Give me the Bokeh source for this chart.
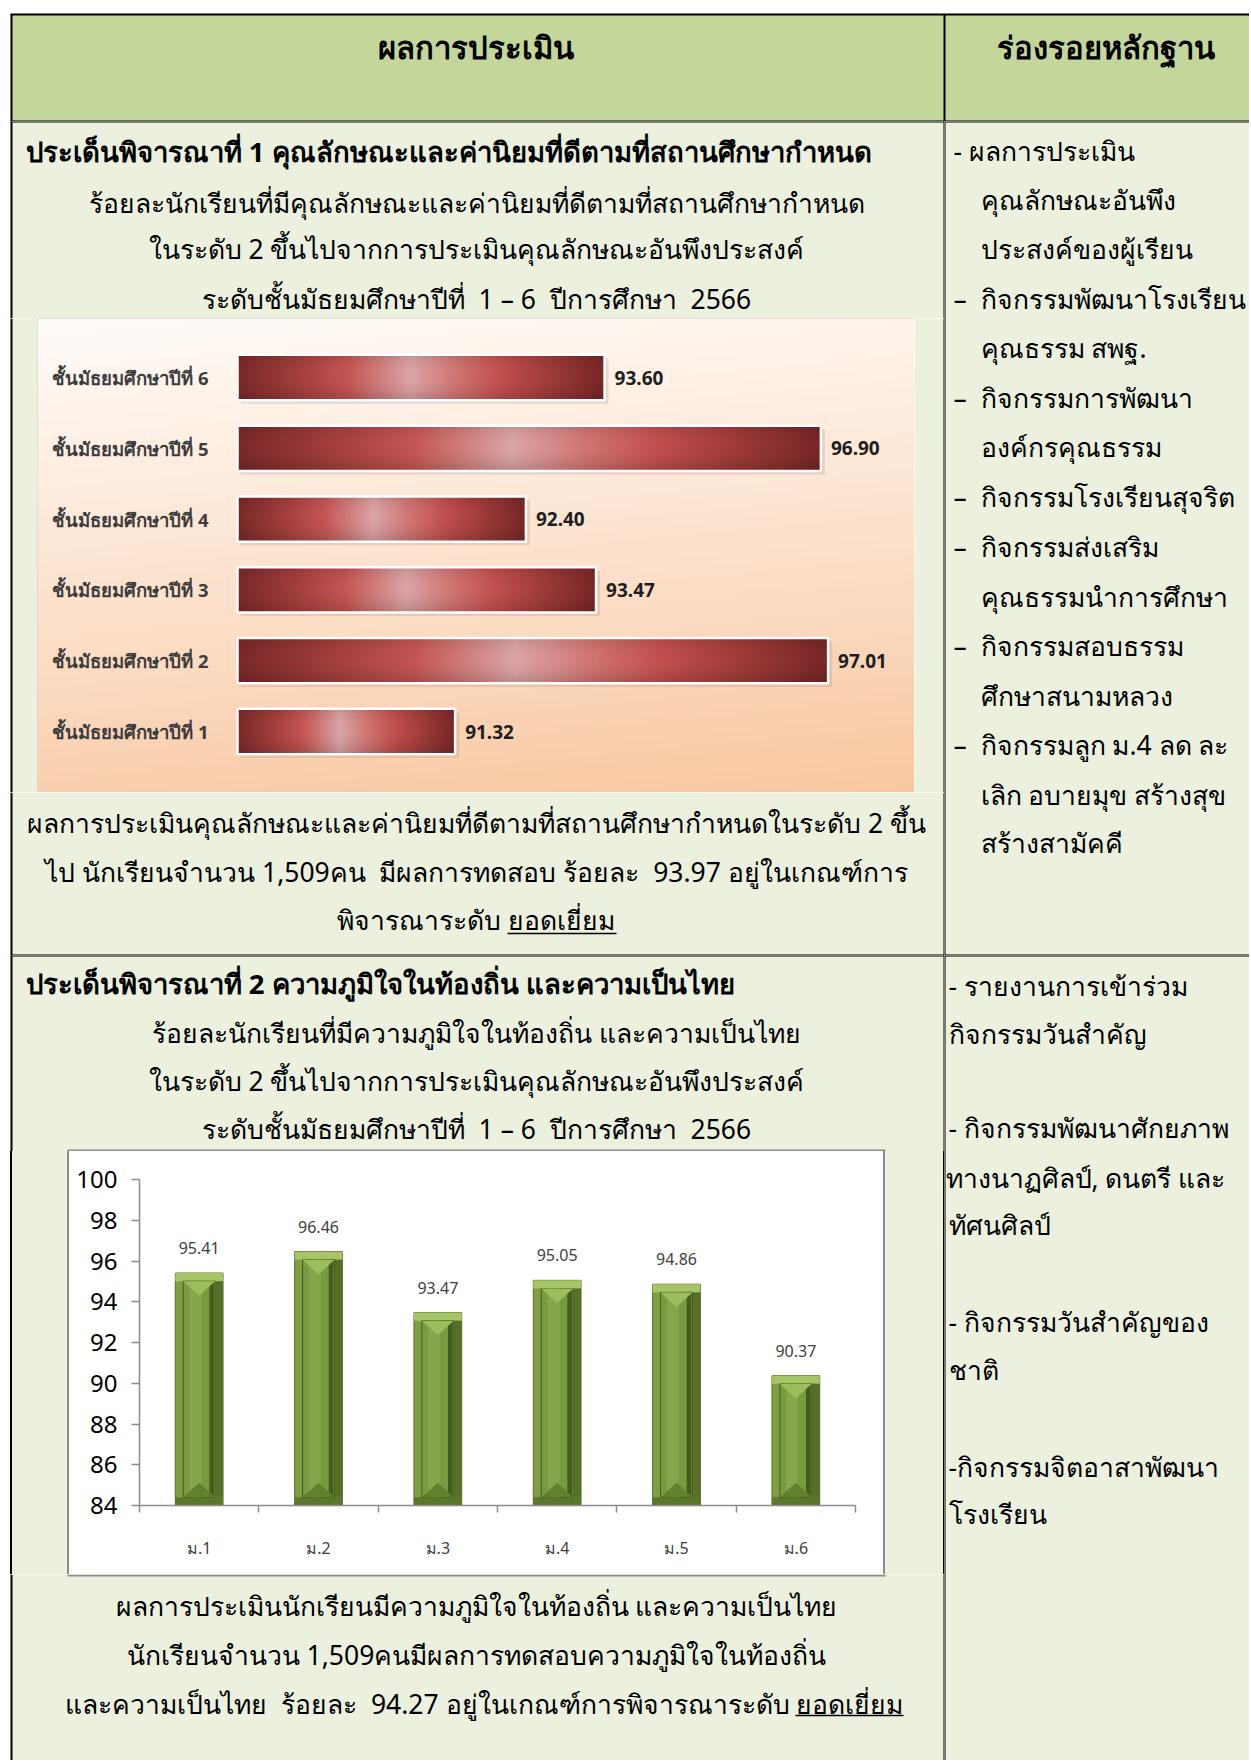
import numpy as np
from bokeh.plotting import figure
from bokeh.layouts import column, row
from bokeh.models import Range1d, FixedTicker, Div
from bokeh.core.properties import value
from bokeh.embed import file_html
from bokeh.resources import INLINE

FONT = "Noto Sans"
CELL = "#ebf1de"
HEAD = "#c4d79b"
BODY = 26.5
BOLD = 27.5
SP = "\u00a0 "   # a preserved double space

# ---------------- data ----------------
c1_categories = ["ชั้นมัธยมศึกษาปีที่ 1", "ชั้นมัธยมศึกษาปีที่ 2", "ชั้นมัธยมศึกษาปีที่ 3",
                 "ชั้นมัธยมศึกษาปีที่ 4", "ชั้นมัธยมศึกษาปีที่ 5", "ชั้นมัธยมศึกษาปีที่ 6"]
c1_values = [91.32, 97.01, 93.47, 92.40, 96.90, 93.60]
c1_axis_min = 88

c2_categories = ["ม.1", "ม.2", "ม.3", "ม.4", "ม.5", "ม.6"]
c2_values = [95.41, 96.46, 93.47, 95.05, 94.86, 90.37]
c2_y_ticks = [84, 86, 88, 90, 92, 94, 96, 98, 100]

header_left = "ผลการประเมิน"
header_right = "ร่องรอยหลักฐาน"

title1 = "ประเด็นพิจารณาที่ 1 คุณลักษณะและค่านิยมที่ดีตามที่สถานศึกษากำหนด"
s1_lines = ["ร้อยละนักเรียนที่มีคุณลักษณะและค่านิยมที่ดีตามที่สถานศึกษากำหนด",
            "ในระดับ 2 ขึ้นไปจากการประเมินคุณลักษณะอันพึงประสงค์",
            f"ระดับชั้นมัธยมศึกษาปีที่{SP}1 – 6{SP}ปีการศึกษา{SP}2566"]
s1_summary = ["ผลการประเมินคุณลักษณะและค่านิยมที่ดีตามที่สถานศึกษากำหนดในระดับ 2 ขึ้น",
              f"ไป นักเรียนจำนวน 1,509คน{SP}มีผลการทดสอบ ร้อยละ{SP}93.97 อยู่ในเกณฑ์การ"]
s1_last = ["พิจารณาระดับ", "ยอดเยี่ยม"]

title2 = "ประเด็นพิจารณาที่ 2 ความภูมิใจในท้องถิ่น และความเป็นไทย"
s2_lines = ["ร้อยละนักเรียนที่มีความภูมิใจในท้องถิ่น และความเป็นไทย",
            "ในระดับ 2 ขึ้นไปจากการประเมินคุณลักษณะอันพึงประสงค์",
            f"ระดับชั้นมัธยมศึกษาปีที่{SP}1 – 6{SP}ปีการศึกษา{SP}2566"]
s2_summary = ["ผลการประเมินนักเรียนมีความภูมิใจในท้องถิ่น และความเป็นไทย",
              "นักเรียนจำนวน 1,509คนมีผลการทดสอบความภูมิใจในท้องถิ่น"]
s2_last = [f"และความเป็นไทย{SP}ร้อยละ{SP}94.27 อยู่ในเกณฑ์การพิจารณาระดับ", "ยอดเยี่ยม"]

r1_lines = [("", "- ผลการประเมิน"), ("", "คุณลักษณะอันพึง"), ("", "ประสงค์ของผู้เรียน"),
            ("–", "กิจกรรมพัฒนาโรงเรียน"), ("", "คุณธรรม สพฐ."),
            ("–", "กิจกรรมการพัฒนา"), ("", "องค์กรคุณธรรม"),
            ("–", "กิจกรรมโรงเรียนสุจริต"),
            ("–", "กิจกรรมส่งเสริม"), ("", "คุณธรรมนำการศึกษา"),
            ("–", "กิจกรรมสอบธรรม"), ("", "ศึกษาสนามหลวง"),
            ("–", "กิจกรรมลูก ม.4 ลด ละ"), ("", "เลิก อบายมุข สร้างสุข"), ("", "สร้างสามัคคี")]
r2_lines = ["- รายงานการเข้าร่วม", "กิจกรรมวันสำคัญ", "- กิจกรรมพัฒนาศักยภาพ",
            "ทางนาฏศิลป์, ดนตรี และ", "ทัศนศิลป์", "- กิจกรรมวันสำคัญของ", "ชาติ",
            "-กิจกรรมจิตอาสาพัฒนา", "โรงเรียน"]


# ---------------- helpers ----------------
def cell(w, h, bg=CELL):
    p = figure(width=w, height=h, x_range=Range1d(0, w), y_range=Range1d(h, 0),
               x_axis_location=None, y_axis_location=None, min_border=0,
               toolbar_location=None, output_backend="svg",
               background_fill_color=bg, border_fill_color=bg, outline_line_color=None)
    p.grid.visible = False
    return p


def txt(p, x, y, s, size=BODY, bold=False, align="left", color="black"):
    p.text(x=[x], y=[y], text=[s], text_font=value(FONT), text_font_size=f"{size}px",
           text_font_style="bold" if bold else "normal", text_align=align,
           text_baseline="middle", text_color=color)


def seg(p, x0, y0, x1, y1, color="black", w=2.0):
    p.segment(x0=[x0], y0=[y0], x1=[x1], y1=[y1], line_color=color, line_width=w)


def left_edges(p, w, h, right=True):
    p.quad(left=[0], right=[10], top=[0], bottom=[h], color="white")
    seg(p, 11, 0, 11, h)
    if right:
        seg(p, w, 0, w, h)


def pad_div(w, h, stops):
    parts = []
    for c, a, b in stops:
        parts.append(f"{c} {a}px, {c} {b}px")
    grad = "linear-gradient(to right, " + ", ".join(parts) + ")"
    return Div(text="", width=w, height=h, margin=(0, 0, 0, 0),
               styles={"background": grad, "padding": "0", "margin": "0"})


def hexrgb(c):
    c = c.lstrip("#")
    return np.array([int(c[i:i + 2], 16) for i in (0, 2, 4)], float)


def interp(stops, t):
    for (a, ca), (b, cb) in zip(stops[:-1], stops[1:]):
        if a <= t <= b:
            f = (t - a) / (b - a) if b > a else 0
            return hexrgb(ca) * (1 - f) + hexrgb(cb) * f
    return hexrgb(stops[-1][1])


def to_rgba_image(rgb):
    ny, nx, _ = rgb.shape
    img = np.empty((ny, nx), dtype=np.uint32)
    view = img.view(dtype=np.uint8).reshape((ny, nx, 4))
    view[:, :, :3] = np.clip(np.round(rgb), 0, 255).astype(np.uint8)
    view[:, :, 3] = 255
    return img


W_ALL = 1249
LW = 944            # left column width (divider at x=944)
RW = W_ALL - LW     # right column width

# ---------------- header ----------------
f_top = cell(W_ALL, 121, bg="white")
f_top.quad(left=[11], right=[W_ALL], top=[14], bottom=[121], color=HEAD)
seg(f_top, 10, 14, W_ALL, 14)
seg(f_top, 10, 121, W_ALL, 121)
seg(f_top, 11, 14, 11, 121)
seg(f_top, LW, 14, LW, 121)
txt(f_top, 475, 46, header_left, size=31, bold=True, align="center")
txt(f_top, 1105, 46, header_right, size=31, bold=True, align="center")

# ---------------- section 1 ----------------
f_t1a = cell(LW, 197)
left_edges(f_t1a, LW, 197)
seg(f_t1a, 10, 0, LW, 0)
txt(f_t1a, 25, 30, title1, size=BOLD, bold=True)
for yy, s in zip([81, 127, 177], s1_lines):
    txt(f_t1a, 476, yy, s, align="center")

f_p1l = cell(37, 474)
left_edges(f_p1l, 37, 474, right=False)
f_p1r = cell(30, 474)
seg(f_p1r, 30, 0, 30, 474)

# chart 1 (horizontal bars)
C1_W, C1_H = 877, 474
px_unit = 65.55
cat_px = 70.8
x0 = c1_axis_min - 200 / px_unit
x1 = x0 + C1_W / px_unit
y0 = 0.5 - (C1_H - 413) / cat_px
y1 = 0.5 + 413 / cat_px
p1 = figure(width=C1_W, height=C1_H, x_range=Range1d(x0, x1), y_range=Range1d(y0, y1),
            x_axis_location=None, y_axis_location=None, min_border=0,
            toolbar_location=None, output_backend="svg",
            background_fill_color="#fce7d6", border_fill_color="#fce7d6",
            outline_line_color="#dcd6d0", outline_line_width=2)
p1.grid.visible = False

# background gradient image (top near white -> bottom peach)
bg_stops = [(0, "#f8c7a0"), (0.45, "#fce0ca"), (1, "#fffbf8")]
ny, nx = 120, 60
bg = np.zeros((ny, nx, 3))
for j in range(ny):
    for i in range(nx):
        t = 0.85 * (j / (ny - 1)) + 0.15 * (1 - i / (nx - 1))
        bg[j, i] = interp(bg_stops, min(1, t))
p1.image_rgba(image=[to_rgba_image(bg)], x=x0, y=y0, dw=x1 - x0, dh=y1 - y0)

ys = np.array([i + 0.5 for i in range(len(c1_values))])
vals = np.array(c1_values)
BAR_H = 0.64
p1.hbar(y=ys - 0.05, left=c1_axis_min + 0.05, right=vals + 0.06, height=BAR_H,
        fill_color="#a08070", fill_alpha=0.22, line_color=None)
bar_stops = [(0, "#7a2829"), (0.16, "#a23e3d"), (0.3, "#c45654"), (0.47, "#dca5a5"),
             (0.6, "#d07472"), (0.72, "#c14f4d"), (0.88, "#973736"), (1, "#772627")]
bny, bnx = 40, 256
bar_rgb = np.zeros((bny, bnx, 3))
for i in range(bnx):
    col = interp(bar_stops, i / (bnx - 1))
    for j in range(bny):
        t = j / (bny - 1)
        shade = 1 - 0.13 * abs(2 * t - 1.1) ** 2
        bar_rgb[j, i] = col * shade
bar_img = to_rgba_image(bar_rgb)
p1.image_rgba(image=[bar_img] * len(vals), x=[c1_axis_min] * len(vals), y=ys - BAR_H / 2,
              dw=vals - c1_axis_min, dh=[BAR_H] * len(vals))
p1.hbar(y=ys, left=c1_axis_min, right=vals, height=BAR_H, fill_color=None,
        line_color="white", line_width=2.5)
p1.text(x=vals, y=ys, text=[f"{v:.2f}" for v in c1_values], x_offset=10,
        text_align="left", text_baseline="middle", text_font=value(FONT),
        text_font_size="19px", text_font_style="bold", text_color="#1e1e1e")
p1.text(x=[c1_axis_min] * len(ys), y=ys, text=c1_categories, x_offset=-29,
        text_align="right", text_baseline="middle", text_font=value(FONT),
        text_font_size="18.5px", text_font_style="bold", text_color="#3c3c3c")

f_t1b = cell(LW, 163)
left_edges(f_t1b, LW, 163)
seg(f_t1b, 10, 163, LW, 163)
for yy, s in zip([30, 79], s1_summary):
    txt(f_t1b, 476, yy, s, align="center")
txt(f_t1b, 500, 127, s1_last[0], align="right")
txt(f_t1b, 507, 127, s1_last[1], align="left")
seg(f_t1b, 507, 141, 616, 141, w=1.5)

f_r1 = cell(RW, 834)
seg(f_r1, 0, 0, 0, 834)
seg(f_r1, 0, 0, RW, 0)
seg(f_r1, 0, 834, RW, 834)
r1_y = [29, 78, 127, 177, 226, 276, 325, 375, 425, 475, 524, 574, 623, 673, 721]
for yy, (d, s) in zip(r1_y, r1_lines):
    if d:
        txt(f_r1, 9, yy, d)
        txt(f_r1, 36, yy, s)
    elif s.startswith("-"):
        txt(f_r1, 9, yy, s)
    else:
        txt(f_r1, 36, yy, s)

# ---------------- section 2 ----------------
f_t2a = cell(LW, 196)
left_edges(f_t2a, LW, 196)
seg(f_t2a, 10, 0, LW, 0)
seg(f_t2a, 67, 195, 885, 195, color="#8c8c8c", w=2)
txt(f_t2a, 25, 28, title2, size=BOLD, bold=True)
for yy, s in zip([77, 125, 173], s2_lines):
    txt(f_t2a, 476, yy, s, align="center")

f_p2l = pad_div(69, 423, [("#ffffff", 0, 10), ("#000000", 10, 12), (CELL, 12, 67), ("#8c8c8c", 67, 69)])
f_p2r = pad_div(61, 423, [("#8c8c8c", 0, 2), (CELL, 2, 60), ("#000000", 60, 61)])

# chart 2 (vertical bevelled bars)
p2 = figure(width=814, height=423, x_range=Range1d(0, 6), y_range=Range1d(84, 100),
            min_border_left=70, min_border_right=28, min_border_top=28, min_border_bottom=69,
            toolbar_location=None, output_backend="svg",
            background_fill_color="white", border_fill_color="white", outline_line_color=None)
p2.grid.visible = False
xs = np.array([i + 0.5 for i in range(len(c2_values))])
v2 = np.array(c2_values)
base = c2_y_ticks[0]
bev_y = 0.4
bev_x = 0.066
p2.vbar(x=xs, top=v2, bottom=base, width=0.4, fill_color="#809f45",
        line_color="#566f29", line_width=1)
p2.vbar(x=xs, top=v2, bottom=v2 - bev_y, width=0.4, fill_color="#a7c466", line_color=None)
p2.vbar(x=xs, top=base + bev_y, bottom=base, width=0.4, fill_color="#5c762b", line_color=None)
p2.vbar(x=xs + 0.2 - bev_x / 2, top=v2 - bev_y, bottom=base + bev_y, width=bev_x,
        fill_color="#56702a", line_color=None)
p2.vbar(x=xs, top=v2 - bev_y, bottom=base + bev_y, width=0.268, fill_color="#7a9a40",
        line_color="#465d1f", line_width=1)
p2.vbar(x=xs - 0.03, top=v2 - bev_y, bottom=base + bev_y, width=0.1, fill_color="#8aab4f",
        fill_alpha=0.7, line_color=None)
p2.vbar(x=xs + 0.105, top=v2 - bev_y, bottom=base + bev_y, width=0.04, fill_color="#455c1e",
        line_color=None)
p2.patches(xs=[[x - 0.134, x + 0.134, x] for x in xs],
           ys=[[t - bev_y, t - bev_y, t - bev_y - 0.72] for t in v2],
           fill_color="#9dbd5c", line_color=None)
p2.patches(xs=[[x - 0.134, x + 0.134, x] for x in xs],
           ys=[[base + bev_y, base + bev_y, base + bev_y + 0.72] for _ in v2],
           fill_color="#62802e", line_color=None)
p2.text(x=xs, y=v2, text=[f"{v:.2f}" for v in c2_values], y_offset=-25,
        text_align="center", text_baseline="middle", text_font=value(FONT),
        text_font_size="16px", text_color="#404040")
p2.yaxis.ticker = FixedTicker(ticks=c2_y_ticks)
p2.yaxis.axis_line_color = "#8c8c8c"
p2.yaxis.axis_line_width = 1.5
p2.yaxis.major_tick_line_color = "#8c8c8c"
p2.yaxis.major_tick_line_width = 1.5
p2.yaxis.major_tick_out = 8
p2.yaxis.major_tick_in = 0
p2.yaxis.minor_tick_line_color = None
p2.yaxis.major_label_standoff = 14
p2.yaxis.major_label_text_font = FONT
p2.yaxis.major_label_text_font_size = "24px"
p2.yaxis.major_label_text_color = "black"
p2.xaxis.ticker = FixedTicker(ticks=list(xs), minor_ticks=list(range(len(c2_values) + 1)))
p2.xaxis.major_label_overrides = {float(x): c for x, c in zip(xs, c2_categories)}
p2.xaxis.axis_line_color = "#8c8c8c"
p2.xaxis.axis_line_width = 1.5
p2.xaxis.major_tick_line_color = None
p2.xaxis.minor_tick_line_color = "#8c8c8c"
p2.xaxis.minor_tick_line_width = 1.5
p2.xaxis.minor_tick_out = 7
p2.xaxis.minor_tick_in = 0
p2.xaxis.major_label_standoff = 24
p2.xaxis.major_label_text_font = FONT
p2.xaxis.major_label_text_font_size = "16px"
p2.xaxis.major_label_text_color = "#404040"

f_t2b = cell(LW, 186)
left_edges(f_t2b, LW, 186)
seg(f_t2b, 67, 1, 885, 1, color="#8c8c8c", w=2)
for yy, s in zip([31, 80], s2_summary):
    txt(f_t2b, 476, yy, s, align="center")
txt(f_t2b, 789, 129, s2_last[0], align="right")
txt(f_t2b, 795, 129, s2_last[1], align="left")
seg(f_t2b, 795, 141, 903, 141, w=1.5)

f_r2 = cell(RW, 805)
seg(f_r2, 0, 0, 0, 805)
seg(f_r2, 0, 0, RW, 0)
r2_y = [30, 78, 172, 222, 269, 366, 414, 511, 558]
r2_x = [4, 4, 4, 1, 4, 4, 4, 4, 4]
for yy, xx, s in zip(r2_y, r2_x, r2_lines):
    txt(f_r2, xx, yy, s)

# ---------------- layout ----------------
left1 = column(f_t1a, row(f_p1l, p1, f_p1r), f_t1b)
left2 = column(f_t2a, row(f_p2l, p2, f_p2r), f_t2b)
page = column(f_top, row(left1, f_r1), row(left2, f_r2))

open("out.html", "w").write(file_html(page, INLINE))
